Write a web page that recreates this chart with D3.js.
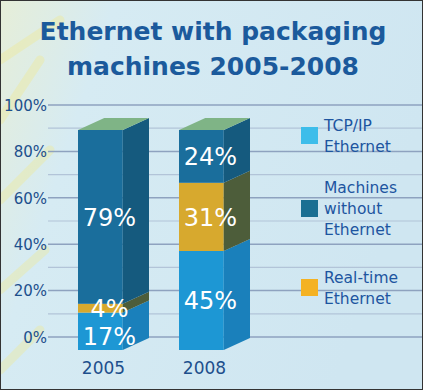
<!DOCTYPE html>
<html><head><meta charset="utf-8">
<script src="https://cdn.jsdelivr.net/npm/d3@7"></script>
<style>body{margin:0;padding:0;background:#fff}svg{display:block}</style>
</head><body>
<svg id="c" width="423" height="390"></svg>
<script>
const years = ["2005", "2008"];
const seriesNames = ["TCP/IP Ethernet", "Real-time Ethernet", "Machines without Ethernet"];
const tcpip = [17, 45];
const realtime = [4, 31];
const withoutEth = [79, 24];
const ticks = [0, 20, 40, 60, 80, 100];
const tickLabels = ["0%", "20%", "40%", "60%", "80%", "100%"];
const minorTicks = [10, 30, 50, 70, 90];
const legendItems = [
  {key: "TCP/IP Ethernet", lines: ["TCP/IP", "Ethernet"]},
  {key: "Machines without Ethernet", lines: ["Machines", "without", "Ethernet"]},
  {key: "Real-time Ethernet", lines: ["Real-time", "Ethernet"]}
];

const W = 423, H = 390;
const svg = d3.select("#c");
const defs = svg.append("defs");
const bg = defs.append("linearGradient").attr("id", "bg").attr("x1", "0").attr("y1", "0").attr("x2", "1").attr("y2", "0.3");
bg.append("stop").attr("offset", "0").attr("stop-color", "#e6eed8");
bg.append("stop").attr("offset", "0.25").attr("stop-color", "#d6ebf3");
bg.append("stop").attr("offset", "1").attr("stop-color", "#cfe6f1");
svg.append("rect").attr("width", W).attr("height", H).attr("fill", "url(#bg)");

// soft yellow streaks on the left
const streaks = [[0, 120, 40, 60], [0, 200, 50, 150], [0, 290, 45, 250], [0, 370, 40, 330], [0, 60, 60, 20]];
svg.append("g").selectAll("line").data(streaks).join("line")
  .attr("x1", d => d[0]).attr("y1", d => d[1]).attr("x2", d => d[2]).attr("y2", d => d[3])
  .attr("stroke", "#f2ea8a").attr("stroke-width", 9).attr("opacity", 0.35).attr("stroke-linecap", "round");

const yAxis = d3.scaleLinear().domain([0, 100]).range([337, 105]);
const yBar = d3.scaleLinear().domain([0, 100]).range([350, 130]);
const x = d3.scaleBand().domain(years).range([78, 250]).paddingInner(0.297).paddingOuter(0);

// gridlines
svg.append("g").selectAll("line.minor").data(minorTicks).join("line")
  .attr("x1", 48).attr("x2", W).attr("y1", d => yAxis(d)).attr("y2", d => yAxis(d))
  .attr("stroke", "#b2c4d8").attr("stroke-width", 1.2);
svg.append("g").selectAll("line.major").data(ticks).join("line")
  .attr("x1", 48).attr("x2", W).attr("y1", d => yAxis(d)).attr("y2", d => yAxis(d))
  .attr("stroke", "#8ea2bf").attr("stroke-width", 1.5);

// axis labels
const ax = svg.append("g").attr("transform", "translate(47,0)")
  .call(d3.axisLeft(yAxis).tickValues(ticks).tickFormat((d, i) => tickLabels[i]).tickSize(0).tickPadding(0));
ax.select(".domain").remove();
ax.selectAll("text").attr("font-family", "DejaVu Sans, sans-serif").attr("font-size", 15)
  .attr("fill", "#1d4f8c").attr("dy", "0.35em");

// bars
const colors = {
  "TCP/IP Ethernet": {front: "#1d97d4", side: "#1a80bb"},
  "Real-time Ethernet": {front: "#d7a92e", side: "#4d5d3a"},
  "Machines without Ethernet": {front: "#1a6e9c", side: "#155a7e"}
};
const rows = years.map((y, i) => ({year: y, "TCP/IP Ethernet": tcpip[i], "Real-time Ethernet": realtime[i], "Machines without Ethernet": withoutEth[i]}));
const stacked = d3.stack().keys(seriesNames)(rows);
const bw = x.bandwidth();
const fw = bw * 0.63, sw = bw - fw, dy = 12;

const gBars = svg.append("g");
stacked.forEach(layer => {
  const key = layer.key;
  layer.forEach(seg => {
    const x0 = x(seg.data.year);
    const yt = yBar(seg[1]), yb = yBar(seg[0]);
    gBars.append("rect").attr("x", x0).attr("y", yt).attr("width", fw).attr("height", yb - yt)
      .attr("fill", colors[key].front);
    gBars.append("path")
      .attr("d", `M${x0 + fw},${yt}L${x0 + fw + sw},${yt - dy}L${x0 + fw + sw},${yb - dy}L${x0 + fw},${yb}Z`)
      .attr("fill", colors[key].side);
  });
});
// top faces
years.forEach(y => {
  const x0 = x(y), yt = yBar(100);
  gBars.append("path")
    .attr("d", `M${x0},${yt}L${x0 + fw},${yt}L${x0 + fw + sw},${yt - dy}L${x0 + sw},${yt - dy}Z`)
    .attr("fill", "#7fb486");
});

// value labels
stacked.forEach(layer => {
  layer.forEach(seg => {
    const h = seg[1] - seg[0];
    const isSmallBottom = seg[0] === 0 && h < 25;
    svg.append("text")
      .attr("x", x(seg.data.year) + bw / 2 - 4)
      .attr("y", isSmallBottom ? yBar(0) - 5 : yBar((seg[0] + seg[1]) / 2))
      .attr("dy", isSmallBottom ? "0" : "0.36em")
      .attr("text-anchor", "middle")
      .attr("font-family", "DejaVu Sans, sans-serif").attr("font-size", 24)
      .attr("fill", "#ffffff")
      .text(h + "%");
  });
});

// year labels
svg.append("g").selectAll("text").data(years).join("text")
  .attr("x", d => x(d) + bw / 2 - 10).attr("y", 374)
  .attr("text-anchor", "middle").attr("font-family", "DejaVu Sans, sans-serif").attr("font-size", 17)
  .attr("fill", "#1d4f8c").text(d => d);

// legend
const legendY = [136, 209, 288];
const lg = svg.append("g");
legendItems.forEach((it, i) => {
  const cy = legendY[i];
  const col = i === 0 ? "#3dbdea" : (i === 1 ? "#1a6f92" : "#f4b223");
  lg.append("rect").attr("x", 301).attr("y", cy - 9).attr("width", 17).attr("height", 17).attr("fill", col);
  const n = it.lines.length;
  it.lines.forEach((ln, j) => {
    lg.append("text").attr("x", 324).attr("y", cy + (j - (n - 1) / 2) * 21).attr("dy", "0.35em")
      .attr("font-family", "DejaVu Sans, sans-serif").attr("font-size", 15.5)
      .attr("fill", "#1d55a0").text(ln);
  });
});

// title
const title = ["Ethernet with packaging", "machines 2005-2008"];
svg.append("g").selectAll("text").data(title).join("text")
  .attr("x", 213).attr("y", (d, i) => 40 + i * 35)
  .attr("text-anchor", "middle").attr("font-family", "DejaVu Sans, sans-serif").attr("font-weight", "bold")
  .attr("font-size", 25).attr("fill", "#1b5a9c").text(d => d);

// frame
svg.append("rect").attr("x", 0.5).attr("y", 0.5).attr("width", W - 1).attr("height", H - 1)
  .attr("fill", "none").attr("stroke", "#333").attr("stroke-width", 1);
</script>
</body></html>
